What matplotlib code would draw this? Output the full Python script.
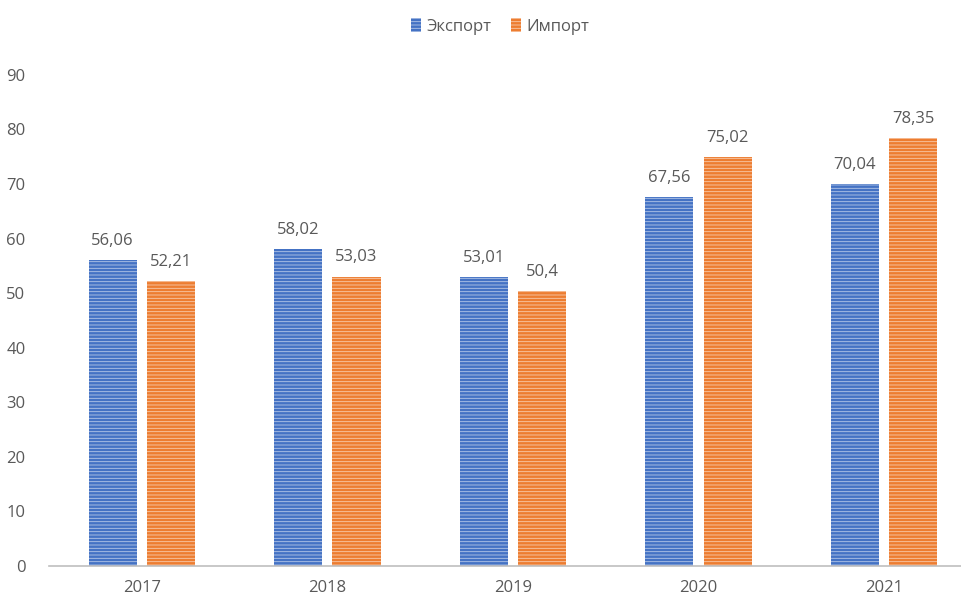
import numpy as np
import matplotlib.pyplot as plt

years = ['2017', '2018', '2019', '2020', '2021']
export_vals = [56.06, 58.02, 53.01, 67.56, 70.04]
import_vals = [52.21, 53.03, 50.4, 75.02, 78.35]
export_labels = ['56,06', '58,02', '53,01', '67,56', '70,04']
import_labels = ['52,21', '53,03', '50,4', '75,02', '78,35']

plt.rcParams['font.family'] = ['Open Sans', 'DejaVu Sans']
plt.rcParams['hatch.linewidth'] = 0.6

BLUE = '#4472C4'
ORANGE = '#ED7D31'
TXT = '#595959'
HATCH = (1, 1, 1, 0.6)

fig = plt.figure(figsize=(9.62, 6.04), dpi=100)
ax = fig.add_axes([0.051, 0.063, 0.949, 0.813])

x = np.arange(len(years))
w = 0.26
gap = 0.054
off = (w + gap) / 2

# hatch colour follows edgecolor, so edge semi-white with zero width
b1 = ax.bar(x - off, export_vals, w, color=BLUE, hatch='-----', edgecolor=HATCH,
            linewidth=0, label='Экспорт')
b2 = ax.bar(x + off, import_vals, w, color=ORANGE, hatch='-----', edgecolor=HATCH,
            linewidth=0, label='Импорт')

for rects, labs in ((b1, export_labels), (b2, import_labels)):
    for r, t in zip(rects, labs):
        ax.annotate(t, (r.get_x() + r.get_width() / 2, r.get_height()),
                    xytext=(0, 8), textcoords='offset points',
                    ha='center', va='bottom', fontsize=12, color=TXT)

ax.set_xlim(-0.5, 4.42)
ax.set_ylim(0, 90)
ax.set_yticks(range(0, 91, 10))
ax.set_xticks(x)
ax.set_xticklabels(years)
ax.tick_params(axis='both', length=0, labelsize=12, colors=TXT)
ax.tick_params(axis='y', pad=17)
ax.tick_params(axis='x', pad=10)
for s in ('top', 'right', 'left'):
    ax.spines[s].set_visible(False)
ax.spines['bottom'].set_color('#BFBFBF')
ax.spines['bottom'].set_linewidth(1.2)

leg = fig.legend(loc='upper center', bbox_to_anchor=(0.52, 0.995), ncol=2,
                 frameon=False, fontsize=12, handlelength=0.6, handleheight=0.9,
                 handletextpad=0.3, columnspacing=1.2)
for t in leg.get_texts():
    t.set_color(TXT)

fig.savefig('out.png', dpi=100)
